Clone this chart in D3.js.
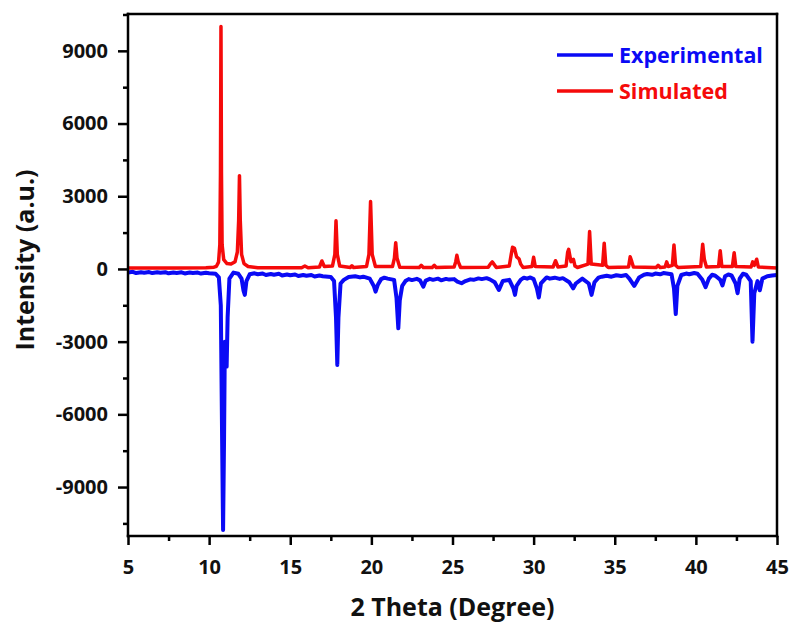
<!DOCTYPE html>
<html>
<head>
<meta charset="utf-8">
<script src="https://cdn.jsdelivr.net/npm/d3@7"></script>
<style>
  body { margin: 0; background: #fff; }
  svg { display: block; font-family: "Open Sans", sans-serif; font-weight: bold; }
</style>
</head>
<body>
<svg id="chart" width="796" height="622"></svg>
<script>
// Tick values
const xTicks = [5, 10, 15, 20, 25, 30, 35, 40, 45];
const xMinorTicks = [7.5, 12.5, 17.5, 22.5, 27.5, 32.5, 37.5, 42.5];
const yTicks = [-9000, -6000, -3000, 0, 3000, 6000, 9000];
const yMinorTicks = [-10500, -7500, -4500, -1500, 1500, 4500, 7500, 10500];

// Simulated pattern [2theta, intensity]
const simulated = [
  [5, 40], [8, 40], [9.8, 50], [10.3, 70], [10.45, 110], [10.58, 280], [10.66, 1000], [10.7, 4000], [10.73, 10000],
  [10.76, 4000], [10.8, 1000], [10.9, 380], [11.1, 220], [11.35, 200], [11.6, 300], [11.74, 700],
  [11.82, 2000], [11.87, 3850], [11.92, 2000], [12.0, 600], [12.15, 220], [12.4, 100], [13, 50],
  [15.7, 50], [15.9, 120], [16.1, 50], [16.8, 80], [16.95, 330], [17.1, 100], [17.6, 120], [17.75, 600],
  [17.82, 1990], [17.9, 600], [18.05, 120], [18.7, 60], [18.8, 130], [18.9, 60], [19.7, 100],
  [19.85, 600], [19.95, 2780], [20.05, 600], [20.25, 100], [21.3, 100], [21.42, 450], [21.5, 1085],
  [21.58, 450], [21.75, 70], [22.95, 60], [23.07, 150], [23.2, 60], [23.75, 60], [23.88, 150],
  [24.0, 60], [25.1, 80], [25.2, 300], [25.27, 565], [25.35, 300], [25.5, 60], [27.2, 70],
  [27.35, 220], [27.45, 290], [27.55, 200], [27.7, 60], [28.5, 120], [28.62, 600], [28.7, 895],
  [28.82, 850], [28.95, 500], [29.1, 420], [29.2, 200], [29.35, 60], [29.9, 100], [30.0, 480],
  [30.1, 100], [31.2, 80], [31.35, 340], [31.5, 80], [32.0, 120], [32.1, 700], [32.16, 810],
  [32.3, 300], [32.45, 400], [32.55, 120], [32.7, 60], [33.35, 200], [33.45, 1540], [33.55, 200],
  [34.25, 150], [34.35, 1060], [34.45, 150], [34.6, 60], [35.85, 80], [35.95, 500], [36.05, 300],
  [36.15, 80], [37.55, 60], [37.67, 150], [37.8, 60], [38.1, 80], [38.2, 290], [38.3, 100],
  [38.55, 150], [38.65, 990], [38.75, 150], [38.9, 60], [40.3, 100], [40.42, 1020], [40.52, 400],
  [40.65, 80], [41.4, 100], [41.5, 755], [41.6, 100], [42.25, 100], [42.36, 670], [42.46, 100],
  [43.4, 80], [43.5, 290], [43.6, 150], [43.75, 400], [43.85, 80], [45, 40]
];

// Experimental pattern (plotted inverted) [2theta, intensity]
const experimental = [
  [5, -150], [5.3, -120], [5.5, -170], [5.8, -140], [6, -160], [6.3, -130], [6.5, -170], [6.8, -140],
  [7, -160], [7.3, -135], [7.5, -180], [7.8, -150], [8, -165], [8.3, -140], [8.5, -185], [8.8, -150],
  [9, -170], [9.3, -150], [9.5, -190], [9.8, -160], [10, -180], [10.4, -200], [10.6, -350],
  [10.72, -1500], [10.8, -7000], [10.86, -10770], [10.92, -7000], [10.97, -3000], [11.02, -3500],
  [11.08, -4030], [11.14, -2000], [11.25, -400], [11.5, -150], [11.8, -200], [12.0, -400], [12.12, -900],
  [12.2, -1070], [12.3, -500], [12.5, -220], [12.8, -180], [13, -220], [13.3, -190], [13.5, -250],
  [13.8, -210], [14, -240], [14.3, -200], [14.5, -270], [14.8, -230], [15, -260], [15.3, -230],
  [15.5, -290], [15.8, -250], [16, -280], [16.3, -250], [16.5, -310], [16.8, -270], [17, -300],
  [17.5, -330], [17.7, -500], [17.82, -2000], [17.9, -3960], [17.97, -2000], [18.1, -600], [18.3, -450],
  [18.6, -330], [19, -300], [19.3, -350], [19.5, -320], [19.9, -400], [20.15, -700], [20.26, -935],
  [20.4, -650], [20.6, -420], [20.8, -360], [21, -400], [21.4, -450], [21.55, -1200], [21.66, -2450],
  [21.75, -1300], [21.9, -700], [22.1, -500], [22.3, -420], [22.5, -460], [22.8, -410], [23, -470],
  [23.2, -730], [23.35, -480], [23.6, -410], [23.8, -450], [24.1, -400], [24.3, -470], [24.6, -410],
  [24.8, -440], [25.1, -420], [25.3, -520], [25.56, -590], [25.8, -500], [26.1, -430], [26.3, -450],
  [26.6, -390], [26.8, -420], [27.1, -380], [27.3, -430], [27.6, -550], [27.86, -870], [28.1, -500],
  [28.5, -450], [28.75, -800], [28.85, -1070], [28.95, -700], [29.2, -450], [29.4, -360], [29.6, -400],
  [29.8, -350], [30.0, -420], [30.2, -800], [30.32, -1180], [30.45, -600], [30.8, -350], [31.0, -400],
  [31.3, -360], [31.6, -410], [31.8, -380], [32.2, -550], [32.44, -800], [32.6, -600], [33.0, -400],
  [33.4, -600], [33.57, -1070], [33.75, -550], [34.0, -360], [34.2, -320], [34.5, -280], [34.8, -320],
  [35.1, -260], [35.4, -290], [35.7, -250], [35.9, -400], [36.2, -700], [36.5, -350], [36.8, -240],
  [37, -210], [37.3, -240], [37.5, -190], [37.8, -220], [38, -170], [38.3, -200], [38.5, -220],
  [38.65, -800], [38.76, -1860], [38.86, -700], [39.1, -250], [39.4, -190], [39.6, -220], [39.9, -170],
  [40.1, -200], [40.4, -450], [40.6, -750], [40.8, -400], [41.0, -240], [41.2, -280], [41.5, -450],
  [41.64, -680], [41.8, -300], [42.0, -230], [42.2, -270], [42.45, -600], [42.57, -1000], [42.7, -400],
  [42.9, -200], [43.1, -240], [43.38, -500], [43.49, -3000], [43.6, -1000], [43.8, -500], [43.94, -880],
  [44.1, -400], [44.4, -300], [44.7, -270], [45, -250]
];

const series = [
  { name: "Experimental", color: "#0a0af5", data: experimental, width: 4 },
  { name: "Simulated", color: "#f50a0a", data: simulated, width: 3.5 }
];

const svg = d3.select("#chart");
const margin = { top: 14, right: 19, bottom: 86, left: 128 };
const width = 796 - margin.left - margin.right;
const height = 622 - margin.top - margin.bottom;
const g = svg.append("g").attr("transform", `translate(${margin.left},${margin.top})`);

const x = d3.scaleLinear().domain([5, 45]).range([0, width]);
const y = d3.scaleLinear().domain([-11020, 10520]).range([height, 0]);

g.append("clipPath").attr("id", "clip")
  .append("rect").attr("width", width).attr("height", height);

const line = d3.line().x(d => x(d[0])).y(d => y(d[1]));

// draw experimental first, then simulated on top
series.forEach(s => {
  g.append("path")
    .datum(s.data)
    .attr("clip-path", "url(#clip)")
    .attr("fill", "none")
    .attr("stroke", s.color)
    .attr("stroke-width", s.width)
    .attr("stroke-linejoin", "round")
    .attr("d", line);
});

const fmt = d => String(d); // plain hyphen minus like the original

// axes
g.append("g").attr("transform", `translate(0,${height})`)
  .call(d3.axisBottom(x).tickValues(xTicks).tickSize(9).tickPadding(15).tickFormat(fmt));
g.append("g").attr("transform", `translate(0,${height})`)
  .call(d3.axisBottom(x).tickValues(xMinorTicks).tickSize(5).tickFormat(""));

g.append("g")
  .call(d3.axisLeft(y).tickValues(yTicks).tickSize(10).tickPadding(10).tickFormat(fmt));
g.append("g")
  .call(d3.axisLeft(y).tickValues(yMinorTicks).tickSize(5).tickFormat(""));

g.selectAll(".tick line").attr("stroke", "#000").attr("stroke-width", 2.5);
g.selectAll(".domain").remove();
g.selectAll(".tick text").attr("fill", "#111").style("font-size", "20px").style("font-family", "Open Sans").style("font-weight", "bold");

// frame, drawn side by side
const frame = g.append("g").attr("stroke", "#000").attr("stroke-width", 2.5).attr("stroke-linecap", "square");
frame.append("line").attr("x1", 0).attr("x2", width).attr("y1", 0).attr("y2", 0);
frame.append("line").attr("x1", 0).attr("x2", width).attr("y1", height).attr("y2", height);
frame.append("line").attr("x1", 0).attr("x2", 0).attr("y1", 0).attr("y2", height);
frame.append("line").attr("x1", width).attr("x2", width).attr("y1", 0).attr("y2", height);

// axis titles
svg.append("text")
  .attr("x", margin.left + x(25)).attr("y", 616)
  .attr("text-anchor", "middle").style("font-size", "25px").attr("fill", "#111")
  .text("2 Theta (Degree)");
svg.append("text")
  .attr("transform", `translate(34,260) rotate(-90)`)
  .attr("text-anchor", "middle").style("font-size", "25px").attr("fill", "#111")
  .text("Intensity (a.u.)");

// legend
const legend = svg.append("g");
series.forEach((s, i) => {
  const ly = 55 + i * 36;
  legend.append("line")
    .attr("x1", 557).attr("x2", 613).attr("y1", ly).attr("y2", ly)
    .attr("stroke", s.color).attr("stroke-width", 3.5);
  legend.append("text")
    .attr("x", 619).attr("y", ly + 8)
    .style("font-size", "21.5px").attr("fill", s.color)
    .text(s.name);
});
</script>
</body>
</html>
